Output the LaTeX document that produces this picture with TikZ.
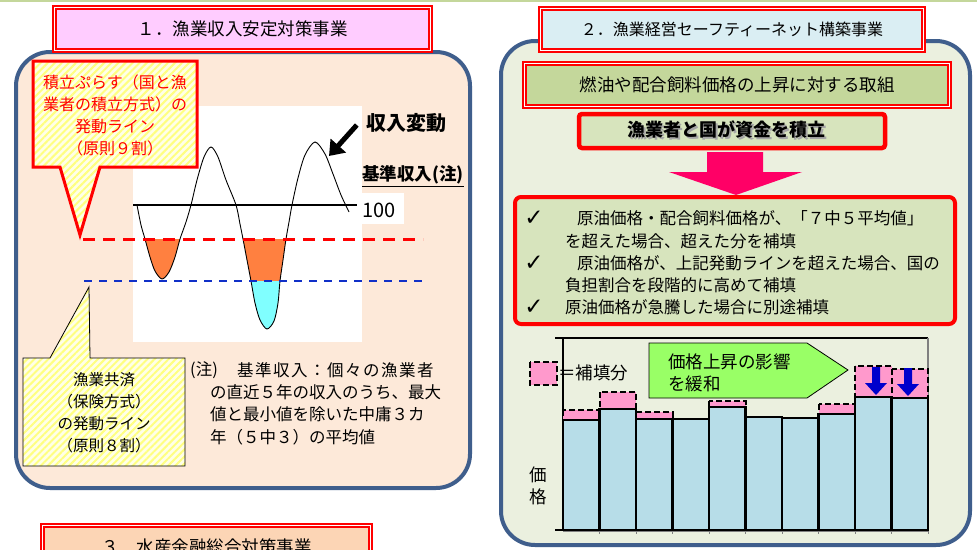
\documentclass[tikz,border=0pt]{standalone}
\usepackage{fontspec}
\setmainfont{Noto Sans CJK JP}
\newfontfamily\symfont{DejaVu Sans}
\usetikzlibrary{patterns.meta,arrows.meta}

\definecolor{panelblue}{HTML}{3F5E8C}
\definecolor{peach}{HTML}{FDE9D9}
\definecolor{palegreen}{HTML}{EBF0DF}
\definecolor{olive}{HTML}{C4D79B}
\definecolor{olivelt}{HTML}{D7E4BD}
\definecolor{ttlpink}{HTML}{FFCCFF}
\definecolor{ttlblue}{HTML}{DAEEF3}
\definecolor{ttlpeach}{HTML}{FCD5B5}
\definecolor{hatchy}{HTML}{FFFF80}
\definecolor{hatchlt}{HTML}{FFFFE8}
\definecolor{barblue}{HTML}{B7DDE8}
\definecolor{padpink}{HTML}{FF99CC}
\definecolor{arrowpink}{HTML}{FF0066}
\definecolor{lgreen}{HTML}{99FF66}
\definecolor{troughor}{HTML}{FF8040}
\definecolor{troughcy}{HTML}{80FFFF}
\definecolor{dashblue}{HTML}{1030C8}
\definecolor{arrowblue}{HTML}{0000CC}

\newcommand{\ck}{{\symfont\fontsize{23}{24}\selectfont ✓}}

\tikzset{
  panel/.style={draw=panelblue, line width=4pt, rounded corners=34pt},
  ttl/.style={draw=red, double=white, double distance=1.2pt, line width=1.8pt, inner sep=0pt},
  hatch/.style={preaction={fill=hatchlt}, pattern={Lines[angle=45,distance=5pt,line width=2pt]}, pattern color=hatchy},
  bar/.style={draw=black, line width=2.4pt, fill=barblue},
  pad/.style={draw=black, line width=2pt, dash pattern=on 6pt off 3pt, fill=padpink},
  txt/.style={inner sep=0pt, font=\fontsize{16.5}{22}\selectfont},
  big/.style={inner sep=0pt, font=\fontsize{17.5}{22}\selectfont},
}

\begin{document}
\begin{tikzpicture}[x=1pt, y=-1pt]

  \newcommand\B{36.5}
  \newcommand\dn[2]{\fill[arrowblue] (#1-4,#2) -- (#1+4,#2) -- (#1+4,#2+16) -- (#1+11,#2+16)
    -- (#1,#2+28) -- (#1-11,#2+16) -- (#1-4,#2+16) -- cycle;}

  \useasboundingbox (0,0) rectangle (977,549);
  \fill[white] (0,0) rectangle (977,549);
  \draw[olive, line width=2pt] (0,1) -- (977,1);

  %% 1. left panel
  \draw[panel, fill=peach] (16,52) rectangle (470,488);
  \node[ttl, fill=ttlpink, minimum width=376pt, minimum height=43pt, font=\fontsize{17.5}{20}\selectfont] (ttlA) at (242.5,29) {１．漁業収入安定対策事業};

  \fill[white] (133,106) rectangle (362,342);
  \fill[white] (362,193) rectangle (404,224);

  \def\wave{plot[smooth] coordinates {(137,205) (141,225) (145,239) (150,257) (155,271) (162,279)
    (169,272) (175,257) (180,239) (186,222) (191,205) (197,180) (204,157) (211,147) (218,157)
    (226,180) (236,205) (240,224) (243,239) (247,260) (251,281) (255,303) (260,320) (267,329)
    (274,321) (278,303) (280,281) (283,260) (286,239) (289,222) (292,205) (298,178) (305,155)
    (315,142) (325,154) (333,174) (341,195) (349,212)}}
  \begin{scope}
    \clip \wave -- (349,100) -- (137,100) -- cycle;
    \fill[troughor] (130,239) rectangle (360,281);
    \fill[troughcy] (130,281) rectangle (360,340);
  \end{scope}
  \draw[line width=0.9pt] \wave;
  \draw[line width=1.2pt] (133,205) -- (357,205);
  \node[inner sep=0pt, anchor=west, font=\fontsize{20}{22}\selectfont] (hundred) at (362,210) {100};

  \draw[red, line width=3pt, dash pattern=on 12pt off 8pt] (83,239) -- (423,239); %% 9 wari
  \draw[dashblue, line width=2.2pt, dash pattern=on 8pt off 7pt] (84,281) -- (427,281); %% 8 wari

  \node[inner sep=0pt, font=\bfseries\fontsize{20}{22}\selectfont] (hendo) at (406,123) {収入変動};
  \coordinate (pk) at (329,156);
  \draw[line width=5pt, -{Triangle[length=14pt,width=20pt]}] ([shift={(-9,2)}]hendo.west) -- (pk);
  \node[inner sep=0pt, font=\bfseries\fontsize{17.5}{22}\selectfont] (kijun) at (413,176) {\underline{基準収入(注)}};

  \draw[red, line width=3pt, hatch] (33,61) -- (197,61) -- (197,167) -- (100,167) -- (80,235)
    -- (60,167) -- (33,167) -- cycle;
  \node[inner sep=0pt, red, align=center, font=\fontsize{16}{22}\selectfont] (tsumi) at (115,115)
    {積立ぷらす（国と漁\\業者の積立方式）の\\発動ライン\\（原則９割）};

  \draw[line width=0.8pt, hatch] (23,358) -- (50,358) -- (89,287) -- (90,358) -- (185,358)
    -- (185,466) -- (23,466) -- cycle;
  \node[inner sep=0pt, align=center, font=\fontsize{15.5}{22}\selectfont] (kyosai) at (104,413)
    {漁業共済\\（保険方式）\\の発動ライン\\（原則８割）};

  \node[txt, anchor=west] (chu) at (190,370) {(注)};
  \node[txt, anchor=west] (chuA) at (237,370) {\addfontfeature{LetterSpace=9}基準収入：個々の漁業者};
  \node[txt, anchor=west] (chuB) at (210,392) {の直近５年の収入のうち、最大};
  \node[txt, anchor=west] (chuC) at (210,414) {値と最小値を除いた中庸３カ};
  \node[txt, anchor=west] (chuD) at (210,437) {年（５中３）の平均値};

  %% 3. (cut off)
  \node[ttl, fill=ttlpeach, minimum width=328pt, minimum height=43pt, font=\fontsize{17.5}{20}\selectfont] (ttlC) at (206.5,547) {３．水産金融総合対策事業};

  %% 2. right panel
  \draw[panel, fill=palegreen] (501,41) rectangle (970,545);
  \node[ttl, fill=ttlblue, minimum width=383pt, minimum height=42pt, font=\fontsize{16}{20}\selectfont] (ttlB) at (732,29.5) {２．漁業経営セーフティーネット構築事業};

  \node[ttl, fill=olive, minimum width=425pt, minimum height=43pt, font=\fontsize{17.5}{20}\selectfont] (torikumi) at (737,85) {燃油や配合飼料価格の上昇に対する取組};

  \node[draw=red, line width=4.5pt, rounded corners=3pt, fill=olivelt, minimum width=306pt, minimum height=34pt] (fund) at (732,131) {};
  \node[inner sep=0pt, font=\bfseries\fontsize{18}{20}\selectfont] (fundtx) at (726.5,131)
    {\rlap{\kern1.5pt\raisebox{-2pt}{\color{black!35}漁業者と国が資金を積立}}漁業者と国が資金を積立};

  \fill[arrowpink] (707,152) -- (763,152) -- (763,172) -- (802,172) -- (736,195) -- (669,172)
    -- (707,172) -- cycle; %% fund -> checks

  \node[draw=red, line width=4pt, rounded corners=6pt, fill=olivelt, minimum width=440pt, minimum height=127pt] (checks) at (735,260.5) {};
  \node[inner sep=0pt] (ckA) at (534,218) {\ck};
  \node[inner sep=0pt] (ckB) at (534,263) {\ck};
  \node[inner sep=0pt] (ckC) at (534,307) {\ck};
  \node[txt, anchor=west] (lnA) at (577,218) {原油価格・配合飼料価格が、「７中５平均値」};
  \node[txt, anchor=west] (lnB) at (565,241) {を超えた場合、超えた分を補填};
  \node[txt, anchor=west] (lnC) at (577,263) {原油価格が、上記発動ラインを超えた場合、国の};
  \node[txt, anchor=west] (lnD) at (565,285) {負担割合を段階的に高めて補填};
  \node[txt, anchor=west] (lnE) at (565,307) {原油価格が急騰した場合に別途補填};

  %% chart
  \draw[line width=1.2pt] (555,338) -- (928,338);
  \draw[gray, line width=1.2pt] (928,338) -- (928,530);
  \draw[line width=1.2pt] (563,338) -- (563,530);
  \draw[line width=1.2pt] (555,338) -- (563,338) (555,530) -- (563,530);
  \draw[gray, line width=1.5pt] (563,531) -- (928,531);

  \foreach \i/\t/\p in {1/420/410, 2/409/392, 3/419/412, 4/419/419, 5/407/401,
                        6/417/417, 7/418/418, 8/414/404, 9/397/366, 10/398/369}{
    \draw[pad] ({563+(\i-1)*\B},\p) rectangle ({563+\i*\B},\t);
  }
  \foreach \i/\t in {1/420, 2/409, 3/419, 4/419, 5/407, 6/417, 7/418, 8/414, 9/397, 10/398}{
    \draw[bar] ({563+(\i-1)*\B},530) rectangle ({563+\i*\B},\t);
    \draw[gray] ({563+\i*\B},531) -- ({563+\i*\B},534);
  }
  \dn{876}{367}
  \dn{908}{368}

  \draw[pad] (530,362) rectangle (557,385);
  \node[big, anchor=west] (hoten) at (558,373) {＝補填分};

  \draw[fill=lgreen, line width=0.8pt] (649,343) -- (807,343) -- (848,370) -- (807,398) -- (649,398) -- cycle;
  \node[big, anchor=west] (eikyoA) at (668,362) {価格上昇の影響};
  \node[big, anchor=west] (eikyoB) at (668,384) {を緩和};

  \node[big, align=center] (kakaku) at (538,486) {価\\格};

\end{tikzpicture}
\end{document}
